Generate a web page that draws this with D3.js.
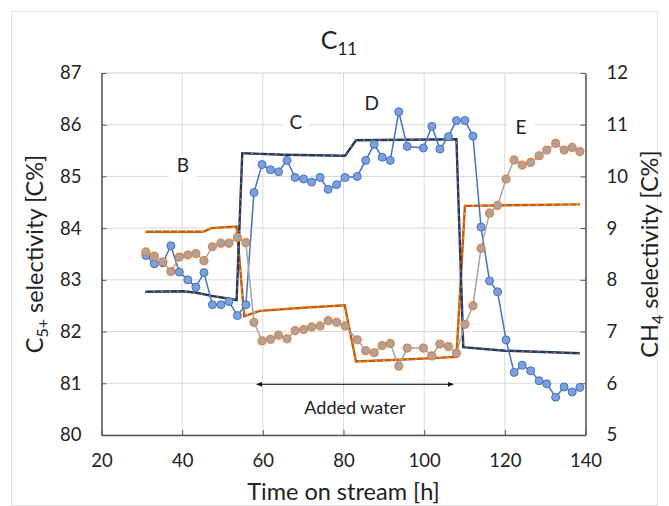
<!DOCTYPE html>
<html>
<head>
<meta charset="utf-8">
<script src="https://cdn.jsdelivr.net/npm/d3@7"></script>
<style>
  body { margin: 0; background: #fff; }
  svg text { font-family: Lato, "Open Sans", sans-serif; fill: #222; }
</style>
</head>
<body>
<div id="chart"></div>
<script>
// measured points
const times = [31.0, 33.1, 35.2, 37.2, 39.3, 41.4, 43.4, 45.4, 47.5, 49.6, 51.6, 53.7, 55.8,
  57.8, 59.8, 61.9, 63.9, 66.0, 68.0, 70.1, 72.1, 74.2, 76.2, 78.3, 80.4,
  83.4, 85.5, 87.6, 89.6, 91.6, 93.7, 95.8, 99.8, 101.9, 103.9, 106.0, 108.0,
  110.1, 112.1, 114.1, 116.2, 118.2, 120.3, 122.3, 124.3, 126.4, 128.5, 130.4, 132.6, 134.7, 136.7, 138.6]
const c5Selectivity = [83.47, 83.31, 83.33, 83.66, 83.15, 83.00, 82.86, 83.14, 82.52, 82.52, 82.58, 82.31, 82.52,
  84.69, 85.23, 85.13, 85.09, 85.31, 84.98, 84.95, 84.89, 84.98, 84.75, 84.84, 84.98,
  85.00, 85.31, 85.62, 85.37, 85.31, 86.25, 85.58, 85.55, 85.97, 85.53, 85.77, 86.08,
  86.08, 85.78, 84.02, 82.98, 82.77, 81.84, 81.21, 81.35, 81.24, 81.05, 80.99, 80.73, 80.93, 80.83, 80.92]
const ch4Selectivity = [8.54, 8.46, 8.35, 8.16, 8.44, 8.48, 8.51, 8.37, 8.64, 8.71, 8.71, 8.82, 8.72,
  7.18, 6.82, 6.85, 6.93, 6.86, 7.02, 7.04, 7.09, 7.11, 7.21, 7.18, 7.11,
  6.84, 6.63, 6.59, 6.73, 6.77, 6.33, 6.68, 6.68, 6.53, 6.76, 6.71, 6.58,
  7.14, 7.50, 8.61, 9.29, 9.44, 9.95, 10.32, 10.22, 10.27, 10.40, 10.51, 10.64, 10.51, 10.56, 10.48]

// model curves
const c5ModelT = [30.8, 40.3, 43.6, 47.3, 49.8, 53.5, 54.9, 65.0, 80.4, 83.1, 95.0, 108.0, 109.7, 120.0, 138.6]
const c5ModelV = [82.77, 82.78, 82.75, 82.69, 82.66, 82.61, 85.45, 85.42, 85.40, 85.70, 85.71, 85.72, 81.70, 81.63, 81.58]
const ch4ModelT = [30.8, 45.2, 47.3, 53.5, 55.4, 59.3, 70.0, 80.3, 83.1, 95.0, 108.0, 110.1, 138.6]
const ch4ModelV = [8.93, 8.93, 9.00, 9.03, 7.30, 7.40, 7.46, 7.51, 6.42, 6.46, 6.51, 9.43, 9.46]

const xTicks = [20, 40, 60, 80, 100, 120, 140]
const yLeftTicks = [80, 81, 82, 83, 84, 85, 86, 87]
const yRightTicks = [5, 6, 7, 8, 9, 10, 11, 12]

const phaseLabels = [
  {text: "B", t: 40.2, v: 85.21},
  {text: "C", t: 68.2, v: 86.05},
  {text: "D", t: 87.0, v: 86.42},
  {text: "E", t: 124.0, v: 85.95}
]
const waterFrom = 58.5, waterTo = 107.2, waterLevel = 80.98

const W = 669, H = 506
const margin = {top: 73, right: 83.5, bottom: 71, left: 101.5}
const width = W - margin.left - margin.right
const height = H - margin.top - margin.bottom

const svg = d3.select("#chart").append("svg")
  .attr("width", W).attr("height", H)

svg.append("rect")
  .attr("x", 11.5).attr("y", 11.5).attr("width", W - 23).attr("height", H - 12)
  .attr("fill", "#fff").attr("stroke", "#e3e3e3")

const g = svg.append("g").attr("transform", `translate(${margin.left},${margin.top})`)

const x = d3.scaleLinear().domain([20, 140]).range([0, width])
const yL = d3.scaleLinear().domain([80, 87]).range([height, 0])
const yR = d3.scaleLinear().domain([5, 12]).range([height, 0])

// grid
g.append("g").selectAll("line").data(xTicks.slice(1, -1)).join("line")
  .attr("x1", d => x(d)).attr("x2", d => x(d)).attr("y1", 0).attr("y2", height)
  .attr("stroke", "#d9d9d9")
g.append("g").selectAll("line").data(yLeftTicks.slice(1, -1)).join("line")
  .attr("y1", d => yL(d)).attr("y2", d => yL(d)).attr("x1", 0).attr("x2", width)
  .attr("stroke", "#d9d9d9")
g.append("rect").attr("width", width).attr("height", height)
  .attr("fill", "none").attr("stroke", "#d0d0d0")

// axes
const fmt = d3.format("d")
const axisFont = sel => sel.selectAll("text").attr("font-size", 18.5).attr("fill", "#222")
const axisLine = sel => {
  sel.select(".domain").attr("stroke", "#595959").attr("stroke-width", 1.5)
  sel.selectAll(".tick line").attr("stroke", "#595959")
}
g.append("g").attr("transform", `translate(0,${height})`)
  .call(d3.axisBottom(x).tickValues(xTicks).tickFormat(fmt).tickSize(-5).tickSizeOuter(0).tickPadding(19))
  .call(axisLine).call(axisFont)
g.append("g")
  .call(d3.axisLeft(yL).tickValues(yLeftTicks).tickFormat(fmt).tickSize(-5).tickSizeOuter(0).tickPadding(20))
  .call(axisLine).call(axisFont)
g.append("g").attr("transform", `translate(${width},0)`)
  .call(d3.axisRight(yR).tickValues(yRightTicks).tickFormat(fmt).tickSize(-5).tickSizeOuter(0).tickPadding(21))
  .call(axisLine).call(axisFont)

// model lines
const lineL = d3.line().x(d => x(d[0])).y(d => yL(d[1]))
const lineR = d3.line().x(d => x(d[0])).y(d => yR(d[1]))
const ch4Model = d3.zip(ch4ModelT, ch4ModelV)
const c5Model = d3.zip(c5ModelT, c5ModelV)

g.append("path").attr("d", lineR(ch4Model)).attr("fill", "none")
  .attr("stroke", "#c55a11").attr("stroke-width", 2.4)
g.append("path").attr("d", lineR(ch4Model)).attr("fill", "none")
  .attr("stroke", "#ffc000").attr("stroke-width", 1).attr("stroke-dasharray", "2,6")
g.append("path").attr("d", lineL(c5Model)).attr("fill", "none")
  .attr("stroke", "#1f3864").attr("stroke-width", 2.4)
g.append("path").attr("d", lineL(c5Model)).attr("fill", "none")
  .attr("stroke", "#ed7d31").attr("stroke-width", 1).attr("stroke-dasharray", "2,6")

// measured series
const c5Data = d3.zip(times, c5Selectivity)
const ch4Data = d3.zip(times, ch4Selectivity)

g.append("path").attr("d", lineL(c5Data)).attr("fill", "none")
  .attr("stroke", "#4472c4").attr("stroke-width", 1.5)
g.append("g").selectAll("circle").data(c5Data).join("circle")
  .attr("cx", d => x(d[0])).attr("cy", d => yL(d[1])).attr("r", 4)
  .attr("fill", "#7da0db").attr("stroke", "#4472c4").attr("stroke-width", 1)

g.append("path").attr("d", lineR(ch4Data)).attr("fill", "none")
  .attr("stroke", "#a5a5a5").attr("stroke-width", 1.5)
g.append("g").selectAll("circle").data(ch4Data).join("circle")
  .attr("cx", d => x(d[0])).attr("cy", d => yR(d[1])).attr("r", 4)
  .attr("fill", "#a5a5a5").attr("stroke", "#ed7d31").attr("stroke-width", 1.2)

// phase labels
const lab = g.append("g").selectAll("g").data(phaseLabels).join("g")
  .attr("transform", d => `translate(${x(d.t)},${yL(d.v)})`)
lab.append("rect").attr("x", -14).attr("y", -12).attr("width", 28).attr("height", 24).attr("fill", "#fff")
lab.append("text").attr("text-anchor", "middle").attr("dy", "0.36em")
  .attr("font-size", 19).text(d => d.text)

// added water arrow
svg.append("defs").append("marker").attr("id", "ah")
  .attr("viewBox", "0 0 10 10").attr("refX", 9).attr("refY", 5)
  .attr("markerWidth", 6).attr("markerHeight", 6).attr("orient", "auto-start-reverse")
  .append("path").attr("d", "M0,1L10,5L0,9Z").attr("fill", "#111")
g.append("line")
  .attr("x1", x(waterFrom)).attr("x2", x(waterTo)).attr("y1", yL(waterLevel)).attr("y2", yL(waterLevel))
  .attr("stroke", "#111").attr("stroke-width", 1)
  .attr("marker-start", "url(#ah)").attr("marker-end", "url(#ah)")
g.append("text").attr("x", x((waterFrom + waterTo) / 2)).attr("y", yL(waterLevel) + 30)
  .attr("text-anchor", "middle").attr("font-size", 18).text("Added water")

// titles
const title = svg.append("text").attr("x", 339).attr("y", 49).attr("text-anchor", "middle")
  .attr("font-size", 25)
title.append("tspan").text("C")
title.append("tspan").attr("font-size", 17).attr("dy", 6).text("11")

svg.append("text").attr("x", margin.left + width / 2).attr("y", 500)
  .attr("text-anchor", "middle").attr("font-size", 23.5).text("Time on stream [h]")

const lt = svg.append("text").attr("transform", `translate(43,${margin.top + height / 2}) rotate(-90)`)
  .attr("text-anchor", "middle").attr("font-size", 23.5)
lt.append("tspan").text("C")
lt.append("tspan").attr("font-size", 16).attr("dy", 5).text("5+")
lt.append("tspan").attr("dy", -5).text(" selectivity [C%]")

const rt = svg.append("text").attr("transform", `translate(658,${margin.top + height / 2}) rotate(-90)`)
  .attr("text-anchor", "middle").attr("font-size", 23.5)
rt.append("tspan").text("CH")
rt.append("tspan").attr("font-size", 16).attr("dy", 5).text("4")
rt.append("tspan").attr("dy", -5).text(" selectivity [C%]")
</script>
</body>
</html>
